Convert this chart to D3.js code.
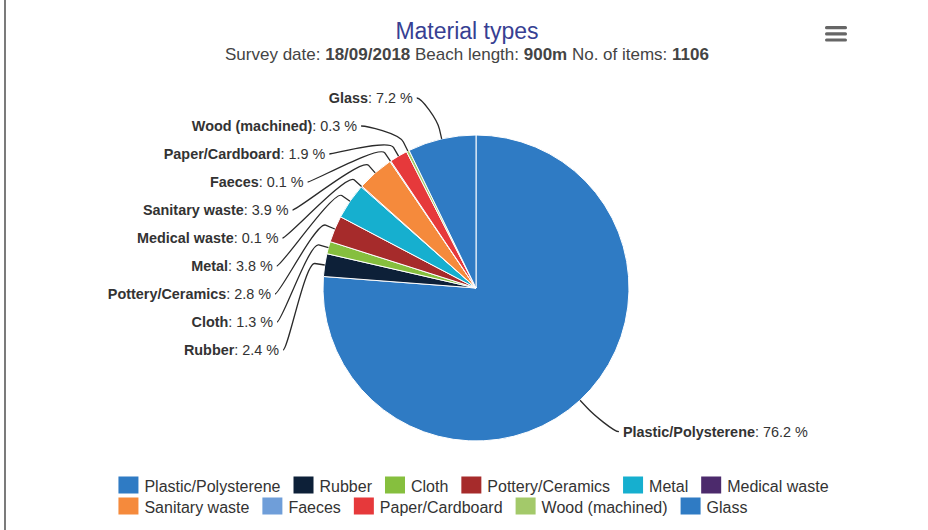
<!DOCTYPE html>
<html>
<head>
<meta charset="utf-8">
<script src="https://cdn.jsdelivr.net/npm/d3@7"></script>
<style>
  body { margin: 0; background: #fff; }
  svg { font-family: "Liberation Sans", Arial, Helvetica, sans-serif; }
</style>
</head>
<body>
<svg width="928" height="530"></svg>
<script>
//data
const categories = ['Plastic/Polysterene', 'Rubber', 'Cloth', 'Pottery/Ceramics', 'Metal', 'Medical waste',
  'Sanitary waste', 'Faeces', 'Paper/Cardboard', 'Wood (machined)', 'Glass'];
const shares = [76.2, 2.4, 1.3, 2.8, 3.8, 0.1, 3.9, 0.1, 1.9, 0.3, 7.2];
const colors = ['#2f7bc4', '#0d2038', '#86bf3e', '#a62b2b', '#16afcf', '#4c2a6c',
  '#f58a3c', '#6f9ed9', '#e6393b', '#a3c96a', '#2f7bc4'];

const rows = categories.map((c, i) => ({ name: c, value: shares[i], color: colors[i] }));

//set up
const svg = d3.select('svg');
const cx = 476, cy = 288, r = 153;

//frame line
svg.append('line').attr('x1', 5).attr('x2', 5).attr('y1', 0).attr('y2', 530)
  .attr('stroke', '#222').attr('stroke-width', 1.2);

//title
svg.append('text').attr('x', 467).attr('y', 38.5).attr('text-anchor', 'middle')
  .style('font-size', '23px').style('fill', '#373f93').text('Material types');

const sub = svg.append('text').attr('x', 467).attr('y', 60).attr('text-anchor', 'middle')
  .style('font-size', '17px').style('fill', '#444');
[['Survey date: ', 0], ['18/09/2018', 1], [' Beach length: ', 0], ['900m', 1], [' No. of items: ', 0], ['1106', 1]]
  .forEach(([t, b]) => sub.append('tspan').style('font-weight', b ? 'bold' : 'normal').text(t));

//menu icon
svg.append('g').selectAll('rect').data([0, 1, 2]).join('rect')
  .attr('x', 825).attr('y', d => 26 + d * 6.2).attr('width', 22).attr('height', 3.2).attr('rx', 1.5)
  .attr('fill', '#666');

//pie
const pie = d3.pie().sort(null).value(d => d.value);
const arcs = pie(rows);
const arc = d3.arc().innerRadius(0).outerRadius(r);

svg.append('g').attr('transform', `translate(${cx},${cy})`)
  .selectAll('path').data(arcs).join('path')
  .attr('d', arc)
  .attr('fill', d => d.data.color)
  .attr('stroke', '#fff').attr('stroke-width', 1).attr('stroke-linejoin', 'round');

//labels
const targetR = r + 43, textR = 205, step = 28, topY = 98, bottomY = 470;
arcs.forEach(d => {
  d.mid = (d.startAngle + d.endAngle) / 2;
  d.left = d.mid > Math.PI;
  d.target = cy - targetR * Math.cos(d.mid);
});

function distribute(list) {
  let groups = list.map(d => ({ items: [d] }));
  const place = g => {
    const n = g.items.length;
    const mean = d3.mean(g.items, d => d.target);
    g.start = Math.max(topY, Math.min(bottomY - (n - 1) * step, mean - (n - 1) * step / 2));
  };
  groups.forEach(place);
  let merged = true;
  while (merged) {
    merged = false;
    for (let i = 0; i < groups.length - 1; i++) {
      const a = groups[i], b = groups[i + 1];
      if (a.start + a.items.length * step > b.start) {
        a.items = a.items.concat(b.items);
        groups.splice(i + 1, 1);
        place(a);
        merged = true;
        break;
      }
    }
  }
  groups.forEach(g => g.items.forEach((d, k) => d.y = g.start + k * step));
}
distribute(arcs.filter(d => d.left).sort((a, b) => a.target - b.target));
distribute(arcs.filter(d => !d.left).sort((a, b) => a.target - b.target));

arcs.forEach(d => {
  const dy = Math.max(-textR, Math.min(textR, d.y - cy - 5));
  const dx = Math.sqrt(textR * textR - dy * dy);
  d.x = d.left ? cx - dx : cx + dx - 4;
});

const lbl = svg.append('g');
lbl.selectAll('path').data(arcs).join('path')
  .attr('fill', 'none').attr('stroke', '#2a2a2a').attr('stroke-width', 1.3)
  .attr('d', d => {
    const sx = d.left ? d.x + 4 : d.x - 4;
    const s = Math.sin(d.mid), c = -Math.cos(d.mid);
    const bx = cx + (r + 10) * s, by = cy + (r + 10) * c;
    const ex = cx + r * s, ey = cy + r * c;
    return `M${sx},${d.y}C${sx + (d.left ? 5 : -5)},${d.y} ${2 * bx - ex},${2 * by - ey} ${bx},${by}L${ex},${ey}`;
  });

const txt = lbl.selectAll('text').data(arcs).join('text')
  .attr('x', d => d.x)
  .attr('y', d => d.y + 5)
  .attr('text-anchor', d => d.left ? 'end' : 'start')
  .style('font-size', '14.4px').style('fill', '#333');
txt.append('tspan').style('font-weight', 'bold').text(d => d.data.name);
txt.append('tspan').text(d => `: ${d.data.value} %`);

//legend
const legend = svg.append('g');
const symW = 20, symH = 17, gap = 6, itemGap = 13, maxW = 760, rowH = 21;
const items = legend.selectAll('g').data(rows).join('g');
items.append('rect').attr('width', symW).attr('height', symH).attr('y', -symH / 2 - 1)
  .attr('fill', d => d.color);
items.append('text').attr('x', symW + gap).attr('y', 5.5)
  .style('font-size', '16px').style('fill', '#333').text(d => d.name);

let lx = 0, row = 0;
const rowWidths = [0];
items.each(function (d) {
  const w = symW + gap + this.querySelector('text').getComputedTextLength();
  if (lx > 0 && lx + w > maxW) { row++; lx = 0; rowWidths.push(0); }
  d.lx = lx; d.row = row;
  rowWidths[row] = lx + w;
  lx += w + itemGap;
});
const legendW = d3.max(rowWidths);
const legendX = 473.5 - legendW / 2;
items.attr('transform', d => `translate(${legendX + d.lx},${486 + d.row * rowH})`);
</script>
</body>
</html>
